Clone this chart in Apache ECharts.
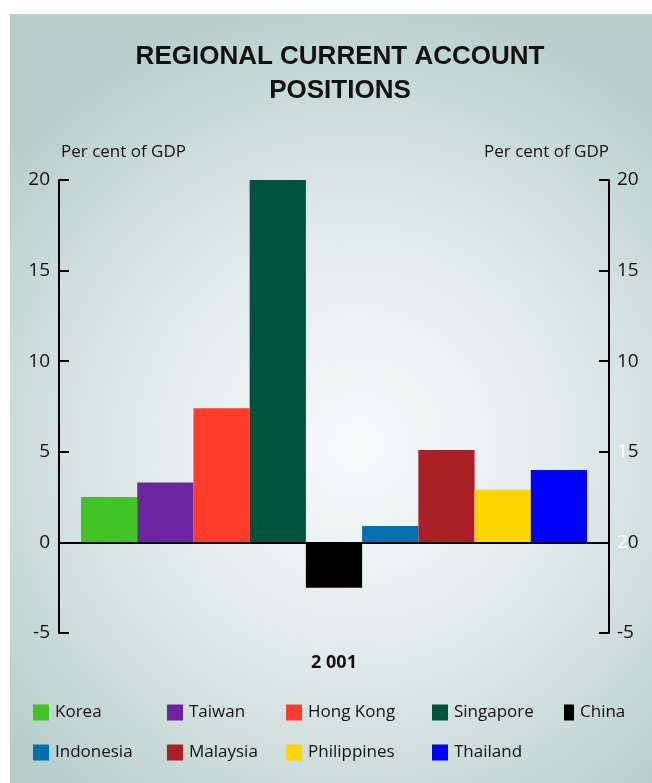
<!DOCTYPE html>
<html>
<head>
<meta charset="utf-8">
<script src="https://cdn.jsdelivr.net/npm/echarts@6/dist/echarts.min.js"></script>
<style>
  html, body { margin: 0; padding: 0; background: #ffffff; }
  #chart { width: 652px; height: 783px; }
</style>
</head>
<body>
<div id="chart"></div>
<script>
// Current account balances, per cent of GDP, 2001
const categories = ['2 001'];
const economies = ['Korea', 'Taiwan', 'Hong Kong', 'Singapore', 'China',
                   'Indonesia', 'Malaysia', 'Philippines', 'Thailand'];
const balances = [2.5, 3.3, 7.4, 20.0, -2.5, 0.9, 5.1, 2.9, 4.0];
const colours = ['#40c426', '#6c25a0', '#ff3b2a', '#00543f', '#000000',
                 '#0071b0', '#ab2024', '#ffd500', '#0000ff'];
const yTicks = { min: -5, max: 20, step: 5 };

// legend columns (two rows)
const legendColumns = [
  ['Korea', 'Indonesia'],
  ['Taiwan', 'Malaysia'],
  ['Hong Kong', 'Philippines'],
  ['Singapore', 'Thailand'],
  ['China']
];
const legendLeft = [33, 167, 286, 432, 564];

const FONT = "'Open Sans', 'Liberation Sans', Arial, sans-serif";
const TITLE_FONT = "'Liberation Sans', Arial, sans-serif";

const chart = echarts.init(document.getElementById('chart'), null, { renderer: 'canvas' });

const series = economies.map((name, i) => {
  const s = {
    name: name,
    type: 'bar',
    data: [balances[i]],
    itemStyle: { color: colours[i] },
    barGap: '0%',
    barCategoryGap: '8%',
    animation: false
  };
  if (i === 0) {
    s.markLine = {
      silent: true,
      symbol: ['none', 'none'],
      label: { show: false },
      lineStyle: { color: '#000', width: 2, type: 'solid' },
      data: [{ yAxis: 0 }],
      animation: false
    };
  }
  return s;
});

const legends = legendColumns.map((names, c) => ({
  left: legendLeft[c],
  top: 704,
  padding: 0,
  orient: 'vertical',
  itemWidth: c === 4 ? 10 : 16,
  itemHeight: 16,
  itemGap: 23,
  icon: 'rect',
  selectedMode: false,
  data: names,
  textStyle: { fontFamily: FONT, fontSize: 17, fontWeight: 500, color: '#111', padding: [0, 0, 0, 1] }
}));

const axisCommon = {
  type: 'value',
  min: yTicks.min,
  max: yTicks.max,
  interval: yTicks.step,
  splitLine: { show: false },
  axisLine: { show: true, lineStyle: { color: '#000', width: 2 } },
  axisTick: { show: true, inside: true, length: 10, lineStyle: { color: '#000', width: 2 } },
  nameLocation: 'end',
  nameGap: 19,
  name: 'Per cent of GDP'
};

chart.setOption({
  animation: false,
  graphic: [{
    type: 'rect',
    z: -10,
    silent: true,
    shape: { x: 10, y: 14, width: 642, height: 769 },
    style: {
      fill: new echarts.graphic.RadialGradient(0.54, 0.56, 0.72, [
        { offset: 0, color: '#f8fafa' },
        { offset: 0.45, color: '#e2ecea' },
        { offset: 1, color: '#b6cdc9' }
      ])
    }
  }],
  title: {
    text: 'REGIONAL CURRENT ACCOUNT\nPOSITIONS',
    left: 335,
    textAlign: 'center',
    top: 35,
    textStyle: {
      fontFamily: TITLE_FONT,
      fontSize: 26,
      fontWeight: 'bold',
      color: '#111',
      lineHeight: 34
    }
  },
  legend: legends,
  grid: { left: 59, right: 43, top: 180, bottom: 150, containLabel: false },
  xAxis: {
    type: 'category',
    data: categories,
    axisLine: { show: false },
    axisTick: { show: false },
    axisLabel: { margin: 21, fontFamily: FONT, fontSize: 18, fontWeight: 'bold', color: '#111' }
  },
  yAxis: [
    Object.assign({}, axisCommon, {
      position: 'left',
      nameTextStyle: { fontFamily: FONT, fontSize: 17, fontWeight: 500, color: '#111', align: 'left', padding: [0, 0, 0, 2] },
      axisLabel: { margin: 9, fontFamily: FONT, fontSize: 19, color: '#111' }
    }),
    Object.assign({}, axisCommon, {
      position: 'right',
      nameTextStyle: { fontFamily: FONT, fontSize: 17, fontWeight: 500, color: '#111', align: 'right' },
      axisLabel: {
        margin: 8,
        fontFamily: FONT,
        fontSize: 19,
        color: '#111',
        formatter: function (v) {
          if (v === 5) return '{g|1}5';
          if (v === 0) return '{g|2}0';
          return String(v);
        },
        rich: { g: { color: '#ffffff', fontFamily: FONT, fontSize: 19 } }
      }
    })
  ],
  series: series
});
</script>
</body>
</html>
